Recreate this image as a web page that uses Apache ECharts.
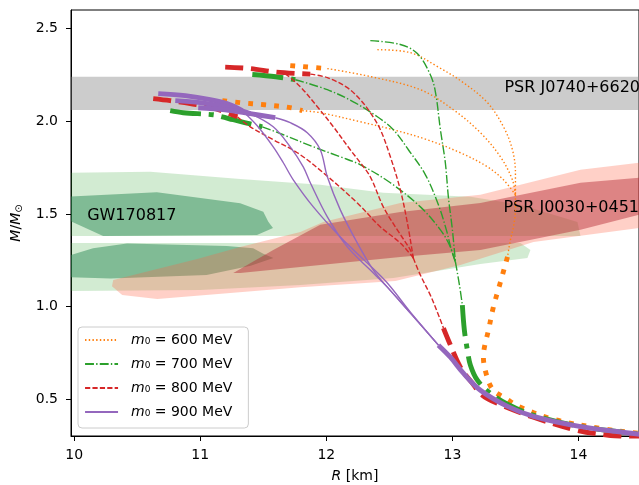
<!DOCTYPE html>
<html><head><meta charset="utf-8">
<script src="https://cdn.jsdelivr.net/npm/echarts@6/dist/echarts.min.js"></script>
<style>html,body{margin:0;padding:0;background:#fff}#c{width:639px;height:485px}</style>
</head><body><div id="c"></div>
<script>
// ---------- axis ticks ----------
const xTicks = [10, 11, 12, 13, 14];
const yTicks = [0.5, 1.0, 1.5, 2.0, 2.5];
const xMin = 9.975, xMax = 14.48, yMin = 0.302, yMax = 2.60;
const legendMasses = [600, 700, 800, 900];

// ---------- observational regions ----------
const psr0740Band = [2.06, 2.24];
const gwLight1 = [[9.975,1.722],[10.603,1.727],[11.317,1.689],[11.952,1.657],[12.452,1.614],[13.143,1.592],[13.54,1.549],[13.992,1.457],[14.016,1.381],[9.975,1.381]];
const gwLight2 = [[9.975,1.343],[13.54,1.343],[13.619,1.305],[13.595,1.262],[13.222,1.23],[12.532,1.154],[11.794,1.116],[11.0,1.089],[9.975,1.084]];
const gwDark1 = [[9.975,1.594],[10.656,1.617],[11.317,1.558],[11.5,1.512],[11.54,1.458],[11.577,1.424],[11.45,1.386],[10.23,1.381],[9.982,1.458],[9.975,1.46]];
const gwDark2 = [[9.975,1.278],[10.15,1.315],[10.42,1.34],[11.21,1.327],[11.42,1.315],[11.5,1.285],[11.58,1.262],[11.4,1.22],[11.05,1.17],[10.29,1.152],[9.975,1.158]];
const psrLight = [[10.31,1.143],[10.976,1.257],[11.317,1.322],[11.794,1.403],[11.976,1.457],[12.587,1.559],[13.222,1.603],[14.016,1.738],[14.48,1.776],[14.48,1.424],[13.643,1.349],[13.063,1.224],[12.548,1.138],[11.794,1.105],[10.659,1.041],[10.381,1.062],[10.3,1.11]];
const psrDark = [[11.262,1.181],[11.579,1.305],[11.952,1.441],[12.587,1.511],[13.222,1.559],[14.016,1.668],[14.48,1.695],[14.48,1.495],[14.016,1.414],[13.222,1.305],[12.587,1.268],[11.952,1.224],[11.317,1.181]];

// ---------- annotations ----------
const annotationText = ['GW170817', 'PSR J0740+6620', 'PSR J0030+0451'];
const annotationX = [10.103, 13.413, 13.405];
const annotationY = [1.489, 2.181, 1.532];

// ---------- m0 = 600 MeV ----------
const o600Tail = [[13.437,1.268],[13.381,1.132],[13.325,0.997],[13.286,0.873],[13.254,0.781],[13.246,0.727],[13.278,0.614],[13.325,0.549],[13.421,0.505],[13.54,0.457],[13.802,0.392],[14.175,0.343],[14.484,0.316],[14.6,0.307]];
const o600Trunk = [[13.5,1.603],[13.5,1.52],[13.484,1.43],[13.46,1.359],[13.437,1.268]];
const o600ATop = [[11.714,2.3],[11.81,2.295],[12.008,2.284]];
const o600A = [[12.008,2.284],[12.349,2.241],[12.746,2.17],[13.008,2.062],[13.222,1.938],[13.381,1.808],[13.476,1.684],[13.5,1.603]];
const o600B = [[12.405,2.386],[12.667,2.37],[12.881,2.295],[13.087,2.208],[13.278,2.1],[13.405,1.97],[13.476,1.846],[13.5,1.722],[13.5,1.603]];
const o600CTop = [[11.175,2.111],[11.317,2.1],[11.508,2.089],[11.714,2.073],[11.81,2.057]];
const o600C = [[11.81,2.057],[11.952,2.046],[12.27,1.997],[12.532,1.954],[12.802,1.9],[13.063,1.83],[13.278,1.754],[13.405,1.684],[13.5,1.603]];

// ---------- m0 = 700 MeV ----------
const g700Tail = [[13.079,1.008],[13.095,0.873],[13.119,0.765],[13.143,0.684],[13.198,0.603],[13.302,0.532],[13.437,0.473],[13.643,0.414],[14.008,0.354],[14.484,0.311],[14.6,0.302]];
const g700Trunk = [[13.024,1.241],[13.056,1.116],[13.079,1.008]];
const g700A = [[12.349,2.435],[12.587,2.414],[12.722,2.365],[12.825,2.251],[12.865,2.159],[12.905,1.954],[12.944,1.776],[12.968,1.592],[13.0,1.414],[13.024,1.241]];
const g700BTop = [[11.413,2.252],[11.6,2.24],[11.754,2.224]];
const g700B = [[11.754,2.224],[12.008,2.17],[12.214,2.105],[12.405,2.024],[12.532,1.954],[12.651,1.846],[12.786,1.711],[12.889,1.549],[12.952,1.414],[12.992,1.305],[13.024,1.241]];
const g700CTop = [[10.762,2.057],[10.865,2.046],[11.103,2.035],[11.175,2.024],[11.262,2.008],[11.492,1.97]];
const g700C = [[11.492,1.97],[11.659,1.927],[11.897,1.862],[12.111,1.808],[12.27,1.765],[12.508,1.668],[12.746,1.538],[12.905,1.414],[12.984,1.322],[13.024,1.241]];

// ---------- m0 = 800 MeV ----------
const r800Tail = [[12.929,0.884],[12.968,0.819],[13.063,0.673],[13.159,0.586],[13.238,0.522],[13.357,0.478],[13.643,0.403],[13.992,0.332],[14.254,0.305],[14.484,0.289]];
const r800Trunk = [[12.69,1.262],[12.746,1.17],[12.825,1.062],[12.881,0.97],[12.929,0.884]];
const r800ATop = [[11.198,2.292],[11.4,2.284],[11.6,2.265],[11.873,2.254]];
const r800A = [[11.873,2.254],[12.008,2.235],[12.167,2.181],[12.27,2.116],[12.349,2.046],[12.429,1.954],[12.508,1.808],[12.587,1.63],[12.643,1.451],[12.69,1.262]];
const r800B = [[11.675,2.257],[11.794,2.186],[11.929,2.078],[12.056,1.97],[12.19,1.846],[12.27,1.776],[12.349,1.7],[12.452,1.538],[12.563,1.414],[12.667,1.305],[12.69,1.262]];
const r800CTop = [[10.627,2.122],[10.762,2.111],[10.921,2.095],[11.095,2.073],[11.294,2.024]];
const r800C = [[11.294,2.024],[11.397,1.97],[11.579,1.9],[11.77,1.83],[11.976,1.722],[12.246,1.559],[12.429,1.43],[12.587,1.343],[12.69,1.262]];

// ---------- m0 = 900 MeV ----------
const p900Tail = [[12.889,0.792],[12.984,0.727],[13.087,0.641],[13.222,0.549],[13.437,0.462],[13.643,0.408],[14.008,0.354],[14.484,0.311],[14.6,0.302]];
const p900ATop = [[10.667,2.149],[10.881,2.138],[11.079,2.116],[11.238,2.089],[11.333,2.057]];
const p900A = [[11.333,2.057],[11.452,1.976],[11.579,1.862],[11.659,1.776],[11.738,1.684],[11.897,1.538],[12.111,1.376],[12.325,1.235],[12.484,1.127],[12.667,0.97],[12.889,0.792]];
const p900BTop = [[10.802,2.111],[11.0,2.1],[11.198,2.078],[11.397,2.041]];
const p900B = [[11.397,2.041],[11.579,1.97],[11.714,1.862],[11.817,1.754],[11.873,1.668],[12.008,1.484],[12.167,1.322],[12.349,1.197],[12.484,1.105],[12.667,0.965],[12.889,0.792]];
const p900CTop = [[10.984,2.073],[11.198,2.062],[11.397,2.041],[11.595,2.019]];
const p900C = [[11.595,2.019],[11.714,1.992],[11.849,1.938],[11.952,1.846],[12.008,1.7],[12.111,1.522],[12.246,1.343],[12.373,1.197],[12.484,1.105],[12.667,0.965],[12.889,0.792]];

// ---------- styling ----------
const FONT = 'DejaVu Sans';
const COL = {600:'#ff7f0e', 700:'#2ca02c', 800:'#d62728', 900:'#9467bd'};
const THIN = 1.4, THICK = 4.9;
const DASH = {
  600: {thin:[1.4,2.3], thick:[4.9,8.1]},
  700: {thin:[8.9,2.2,1.4,2.2], thick:[31,7.8,4.9,7.8]},
  800: {thin:[5.2,2.2], thick:[18,7.8]},
  900: {thin:'solid', thick:'solid'}
};
function lineSeries(name, data, m, thick) {
  return {
    type:'line', name, data, symbol:'none', showSymbol:false, smooth:0.35, silent:true,
    animation:false, emphasis:{disabled:true}, clip:true,
    itemStyle:{color:COL[m]},
    lineStyle:{color:COL[m], width: thick ? THICK : THIN, type: thick ? DASH[m].thick : DASH[m].thin, cap:'butt', join:'round'}
  };
}
function polySeries(pts, fill) {
  return {
    type:'custom', data:[[12,1]], silent:true, clip:true, animation:false,
    renderItem:(params, api) => ({type:'polygon', shape:{points: pts.map(p => api.coord(p))}, style:{fill}})
  };
}
const legendName = m => 'm' + m;

const series = [
  {type:'custom', data:[[12,2]], silent:true, animation:false,
   renderItem:(params, api) => {
     const a = api.coord([xMin, psr0740Band[1]]), b = api.coord([xMax, psr0740Band[0]]);
     return {type:'rect', shape:{x:a[0], y:a[1], width:b[0]-a[0], height:b[1]-a[1]}, style:{fill:'rgba(128,128,128,0.4)'}};
   }},
  polySeries(gwLight1, 'rgba(44,160,44,0.21)'),
  polySeries(gwLight2, 'rgba(44,160,44,0.21)'),
  polySeries(gwDark1, 'rgba(46,139,87,0.5)'),
  polySeries(gwDark2, 'rgba(46,139,87,0.5)'),
  polySeries(psrLight, 'rgba(255,99,71,0.3)'),
  polySeries(psrDark, 'rgba(180,40,50,0.45)'),
  {type:'custom', data: annotationX.map((x,i) => [x, annotationY[i]]), silent:true, animation:false, clip:false, z:3,
   renderItem:(params, api) => {
     const p = api.coord([api.value(0), api.value(1)]);
     return {type:'text', x:p[0], y:p[1], style:{text: annotationText[params.dataIndex], fill:'#000', fontFamily:FONT, fontSize:16, align:'left', verticalAlign:'middle'}};
   }},
  // 600
  lineSeries(legendName(600), o600Trunk, 600, false),
  lineSeries('_o', o600Tail, 600, true),
  lineSeries('_o', o600ATop, 600, true),
  lineSeries('_o', o600A, 600, false),
  lineSeries('_o', o600B, 600, false),
  lineSeries('_o', o600CTop, 600, true),
  lineSeries('_o', o600C, 600, false),
  // 700
  lineSeries(legendName(700), g700Trunk, 700, false),
  lineSeries('_g', g700Tail, 700, true),
  lineSeries('_g', g700A, 700, false),
  lineSeries('_g', g700BTop, 700, true),
  lineSeries('_g', g700B, 700, false),
  lineSeries('_g', g700CTop, 700, true),
  lineSeries('_g', g700C, 700, false),
  // 800
  lineSeries(legendName(800), r800Trunk, 800, false),
  lineSeries('_r', r800Tail, 800, true),
  lineSeries('_r', r800ATop, 800, true),
  lineSeries('_r', r800A, 800, false),
  lineSeries('_r', r800B, 800, false),
  lineSeries('_r', r800CTop, 800, true),
  lineSeries('_r', r800C, 800, false),
  // 900
  lineSeries(legendName(900), p900A, 900, false),
  lineSeries('_p', p900B, 900, false),
  lineSeries('_p', p900C, 900, false),
  lineSeries('_p', p900ATop, 900, true),
  lineSeries('_p', p900BTop, 900, true),
  lineSeries('_p', p900CTop, 900, true),
  lineSeries('_p', p900Tail, 900, true)
];

const txt = {color:'#000', fontFamily:FONT, fontSize:14};
const chart = echarts.init(document.getElementById('c'), null, {renderer:'canvas'});
chart.setOption({
  animation:false,
  backgroundColor:'#fff',
  grid:{left:71, right:0, top:10, bottom:49, show:true, borderColor:'#000', borderWidth:1, backgroundColor:'transparent', containLabel:false, outerBoundsMode:'none'},
  xAxis:{
    type:'value', min:xMin, max:xMax,
    axisLine:{show:true, onZero:false, lineStyle:{color:'#000', width:1}},
    axisTick:{show:true, customValues:xTicks, length:5, lineStyle:{color:'#000', width:1}},
    axisLabel:Object.assign({customValues:xTicks, margin:12, formatter:v => String(v)}, txt),
    splitLine:{show:false},
    name:'{i|R} [km]', nameLocation:'middle', nameGap:33,
    nameTextStyle:Object.assign({rich:{i:Object.assign({fontStyle:'italic'}, txt)}}, txt)
  },
  yAxis:{
    type:'value', min:yMin, max:yMax,
    axisLine:{show:true, onZero:false, lineStyle:{color:'#000', width:1}},
    axisTick:{show:true, customValues:yTicks, length:5, lineStyle:{color:'#000', width:1}},
    axisLabel:Object.assign({customValues:yTicks, margin:13, formatter:v => v.toFixed(1)}, txt),
    splitLine:{show:false},
    name:'{i|M}{n|/}{i|M}{s|⊙}', nameLocation:'middle', nameGap:44, nameRotate:90,
    nameTextStyle:Object.assign({rich:{
      i:Object.assign({fontStyle:'italic'}, txt),
      n:Object.assign({}, txt),
      s:{color:'#000', fontFamily:FONT, fontSize:10, padding:[6,0,0,0]}
    }}, txt)
  },
  legend:{
    data: legendMasses.map(legendName),
    orient:'vertical', left:78, top:327, itemWidth:33, itemHeight:14, itemGap:10,
    padding:[6,16,9,6], backgroundColor:'rgba(255,255,255,0.8)', borderColor:'#cccccc', borderWidth:1, borderRadius:4,
    selectedMode:false, lineStyle:{width:2.1}, itemStyle:{opacity:0, borderWidth:0},
    formatter: n => '{i|m}{n|₀ = ' + n.slice(1) + ' MeV}',
    textStyle:Object.assign({rich:{
      i:Object.assign({fontStyle:'italic', padding:[0,0,0,8]}, txt),
      n:Object.assign({}, txt)
    }}, txt)
  },
  series
});
</script>
</body></html>
